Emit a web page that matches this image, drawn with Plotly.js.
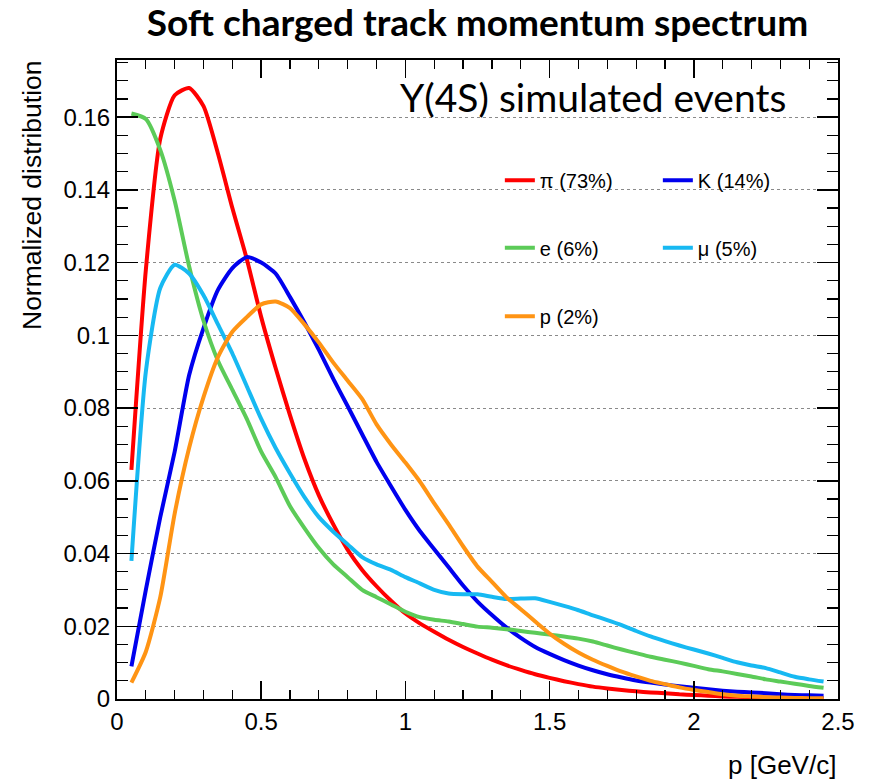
<!DOCTYPE html>
<html>
<head>
<meta charset="utf-8">
<script src="https://cdn.plot.ly/plotly-3.0.1.min.js"></script>
<style>html,body{margin:0;padding:0;background:#fff;}#chart{width:873px;height:780px;}</style>
</head>
<body>
<div id="chart"></div>
<script>
// momentum bin centres [GeV/c]
const momentum = [0.05,0.10,0.15,0.20,0.25,0.30,0.35,0.40,0.45,0.50,0.55,0.60,0.65,0.70,0.75,0.80,0.85,0.90,0.95,1.00,
  1.05,1.10,1.15,1.20,1.25,1.30,1.35,1.40,1.45,1.50,1.55,1.60,1.65,1.70,1.75,1.80,1.85,1.90,1.95,2.00,
  2.05,2.10,2.15,2.20,2.25,2.30,2.35,2.40,2.45];

const pion = [0.063,0.118,0.154,0.166,0.168,0.163,0.150,0.135,0.121,0.105,0.091,0.078,0.066,0.056,0.048,0.041,0.0355,0.031,0.027,0.0235,
  0.0208,0.0185,0.0163,0.0143,0.0125,0.0108,0.0093,0.008,0.0068,0.0058,0.0049,0.0041,0.0034,0.0029,0.0025,0.0021,0.0018,0.0016,0.0013,0.0011,
  0.0009,0.0007,0.0006,0.0005,0.0004,0.0003,0.0003,0.0002,0.0002];

const kaon = [0.009,0.030,0.050,0.068,0.089,0.102,0.1125,0.1185,0.1215,0.120,0.117,0.1105,0.1035,0.096,0.088,0.0805,0.0728,0.0652,0.0585,0.052,
  0.0462,0.0412,0.0362,0.0312,0.0268,0.0231,0.0197,0.0168,0.0143,0.0124,0.0107,0.0092,0.0079,0.0068,0.0059,0.0051,0.0045,0.004,0.0035,0.0031,
  0.0027,0.0023,0.002,0.0018,0.0016,0.0013,0.0011,0.001,0.0009];

const electron = [0.161,0.1595,0.151,0.137,0.119,0.104,0.093,0.085,0.077,0.068,0.061,0.053,0.047,0.0415,0.037,0.0335,0.030,0.028,0.026,0.024,
  0.0225,0.0218,0.0213,0.0206,0.0199,0.0196,0.0192,0.0187,0.0182,0.0177,0.0172,0.0166,0.0158,0.0147,0.0136,0.0126,0.0116,0.0108,0.010,0.0091,
  0.0082,0.0076,0.0069,0.0062,0.0054,0.0048,0.0042,0.0036,0.0031];

const muon = [0.038,0.090,0.113,0.1194,0.117,0.111,0.103,0.095,0.086,0.077,0.069,0.062,0.0555,0.050,0.046,0.0425,0.039,0.037,0.0355,0.0335,
  0.0318,0.030,0.029,0.0288,0.0288,0.0281,0.0275,0.0276,0.0277,0.0267,0.0256,0.0244,0.023,0.0217,0.0203,0.0187,0.0172,0.0159,0.0147,0.0136,
  0.0125,0.0113,0.0101,0.0092,0.0085,0.0073,0.0061,0.0054,0.0048];

const proton = [0.0045,0.013,0.028,0.051,0.069,0.083,0.094,0.101,0.105,0.1085,0.1093,0.1075,0.103,0.098,0.0925,0.0875,0.0825,0.0755,0.070,0.065,
  0.0598,0.0538,0.048,0.042,0.0364,0.0322,0.028,0.0247,0.0213,0.018,0.0152,0.0128,0.0108,0.0091,0.0075,0.0062,0.005,0.0041,0.0032,0.0025,
  0.0019,0.0013,0.0009,0.0007,0.0005,0.0004,0.0003,0.0002,0.0002];

const seriesNames = ['π (73%)','K (14%)','e (6%)','μ (5%)','p (2%)'];
const seriesColors = ['#ff0000','#0000ee','#5ccb58','#17b9f2','#ff9414'];

const xTickVals = [0,0.5,1,1.5,2,2.5];
const xTickText = ['0','0.5','1','1.5','2','2.5'];
const yTickVals = [0,0.02,0.04,0.06,0.08,0.10,0.12,0.14,0.16];
const yTickText = ['0','0.02','0.04','0.06','0.08','0.1','0.12','0.14','0.16'];

const seriesData = [pion,kaon,electron,muon,proton];
const legendIds = ['legend','legend','legend2','legend2','legend3'];

const traces = seriesData.map((ys,i)=>({
  x: momentum, y: ys, type:'scatter', mode:'lines',
  name: seriesNames[i], legend: legendIds[i],
  line:{color:seriesColors[i], width:4, shape:'spline', smoothing:0.6}
}));

const tickFont = {family:'Liberation Sans, Arial, sans-serif', size:24, color:'#000'};
const legendFont = {family:'Liberation Sans, Arial, sans-serif', size:20, color:'#000'};
const legBase = {orientation:'h', xanchor:'left', yanchor:'middle', bgcolor:'rgba(0,0,0,0)', borderwidth:0,
  font:legendFont, entrywidth:113, entrywidthmode:'pixels', itemclick:false, tracegroupgap:0};

const layout = {
  width:873, height:780,
  margin:{l:117, r:35, t:60, b:81},
  paper_bgcolor:'#fff', plot_bgcolor:'#fff',
  showlegend:true,
  title:{text:'<b>Soft charged track momentum spectrum</b>', x:0.5, xref:'paper', xanchor:'center',
    y:0.971, yref:'container', yanchor:'middle',
    font:{family:'Lato, sans-serif', size:37, color:'#000'}},
  xaxis:{range:[0,2.5], tickmode:'array', tickvals:xTickVals, ticktext:xTickText,
    ticks:'inside', ticklen:18, tickwidth:1.5, tickcolor:'#000',
    showline:true, linecolor:'#000', linewidth:2, mirror:'ticks',
    showgrid:false, zeroline:false, tickfont:tickFont,
    minor:{dtick:0.1, tick0:0, ticks:'inside', ticklen:9, tickwidth:1.2, tickcolor:'#000', showgrid:false}},
  yaxis:{range:[0,0.1757], tickmode:'array', tickvals:yTickVals, ticktext:yTickText,
    ticks:'inside', ticklen:21, tickwidth:1.5, tickcolor:'#000',
    showline:true, linecolor:'#000', linewidth:2, mirror:'ticks',
    showgrid:true, gridcolor:'#8a8a8a', gridwidth:1, griddash:'dot', zeroline:false, tickfont:tickFont,
    minor:{dtick:0.005, tick0:0, ticks:'inside', ticklen:11, tickwidth:1.2, tickcolor:'#000', showgrid:false}},
  legend: Object.assign({}, legBase, {x:0.531, y:0.812}),
  legend2: Object.assign({}, legBase, {x:0.531, y:0.706}),
  legend3: Object.assign({}, legBase, {x:0.531, y:0.599}),
  annotations:[
    {text:'Y(4S) simulated events', xref:'paper', yref:'paper', x:0.93, y:0.942, xanchor:'right', yanchor:'middle',
      showarrow:false, font:{family:'Lato, sans-serif', size:39, color:'#000'}},
    {text:'Normalized distribution', xref:'paper', yref:'paper', x:-0.118, y:1.003, xanchor:'center', yanchor:'top',
      textangle:-90, showarrow:false, font:{family:'Liberation Sans, Arial, sans-serif', size:26.5, color:'#000'}},
    {text:'p [GeV/c]', xref:'paper', yref:'paper', x:1.0, y:-0.103, xanchor:'right', yanchor:'middle',
      showarrow:false, font:{family:'Liberation Sans, Arial, sans-serif', size:26, color:'#000'}}
  ]
};

Plotly.newPlot('chart', traces, layout, {displayModeBar:false, staticPlot:true});
</script>
</body>
</html>
